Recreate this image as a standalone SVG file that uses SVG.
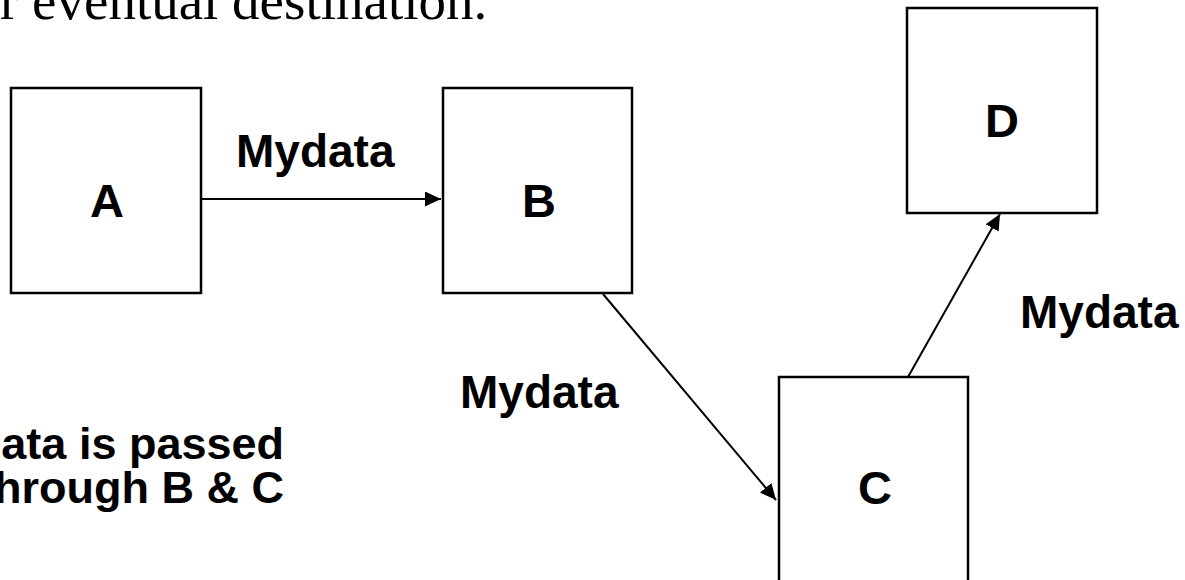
<svg xmlns="http://www.w3.org/2000/svg" width="1185" height="580" viewBox="0 0 1185 580">
<style>
.box{fill:#fff;stroke:#000;stroke-width:2.5}
.lbl{font-family:"Liberation Sans",Arial,sans-serif;font-weight:bold;font-size:47px;fill:#000;text-anchor:middle}
.ml{font-family:"Liberation Sans",Arial,sans-serif;font-weight:bold;font-size:46px;fill:#000}
.note{font-family:"Liberation Sans",Arial,sans-serif;font-weight:bold;font-size:45px;fill:#000;text-anchor:end}
.title{font-family:"Liberation Serif","Times New Roman",serif;font-size:55px;fill:#000}
.conn{stroke:#000;stroke-width:2;fill:none;marker-end:url(#ah)}
</style>
<defs>
<marker id="ah" markerUnits="userSpaceOnUse" markerWidth="17" markerHeight="16" refX="16" refY="7.5" orient="auto">
<path d="M0,0 L16,7.5 L0,15 z" fill="#000"/>
</marker>
</defs>
<rect width="1185" height="580" fill="#fff"/>
<text class="title" x="0" y="19">r eventual destination.</text>
<g id="connectors">
<line class="conn" x1="202" y1="199" x2="441" y2="199"/>
<line class="conn" x1="603" y1="294" x2="776" y2="500"/>
<line class="conn" x1="908" y1="377" x2="1000" y2="214"/>
</g>
<g id="node-A"><rect class="box" x="11" y="88" width="190" height="205"/><text class="lbl" x="107" y="217">A</text></g>
<g id="node-B"><rect class="box" x="443" y="88" width="189" height="205"/><text class="lbl" x="539" y="217">B</text></g>
<g id="node-C"><rect class="box" x="779" y="377" width="189" height="230"/><text class="lbl" x="875" y="504">C</text></g>
<g id="node-D"><rect class="box" x="907" y="8" width="190" height="205"/><text class="lbl" x="1002" y="137">D</text></g>
<g id="labels">
<text class="ml" x="236" y="167">Mydata</text>
<text class="ml" x="460" y="408">Mydata</text>
<text class="ml" x="1020" y="328">Mydata</text>
</g>
<g id="note">
<text class="note" x="284" y="459">Mydata is passed</text>
<text class="note" x="284" y="503">through B &amp; C</text>
</g>
</svg>
